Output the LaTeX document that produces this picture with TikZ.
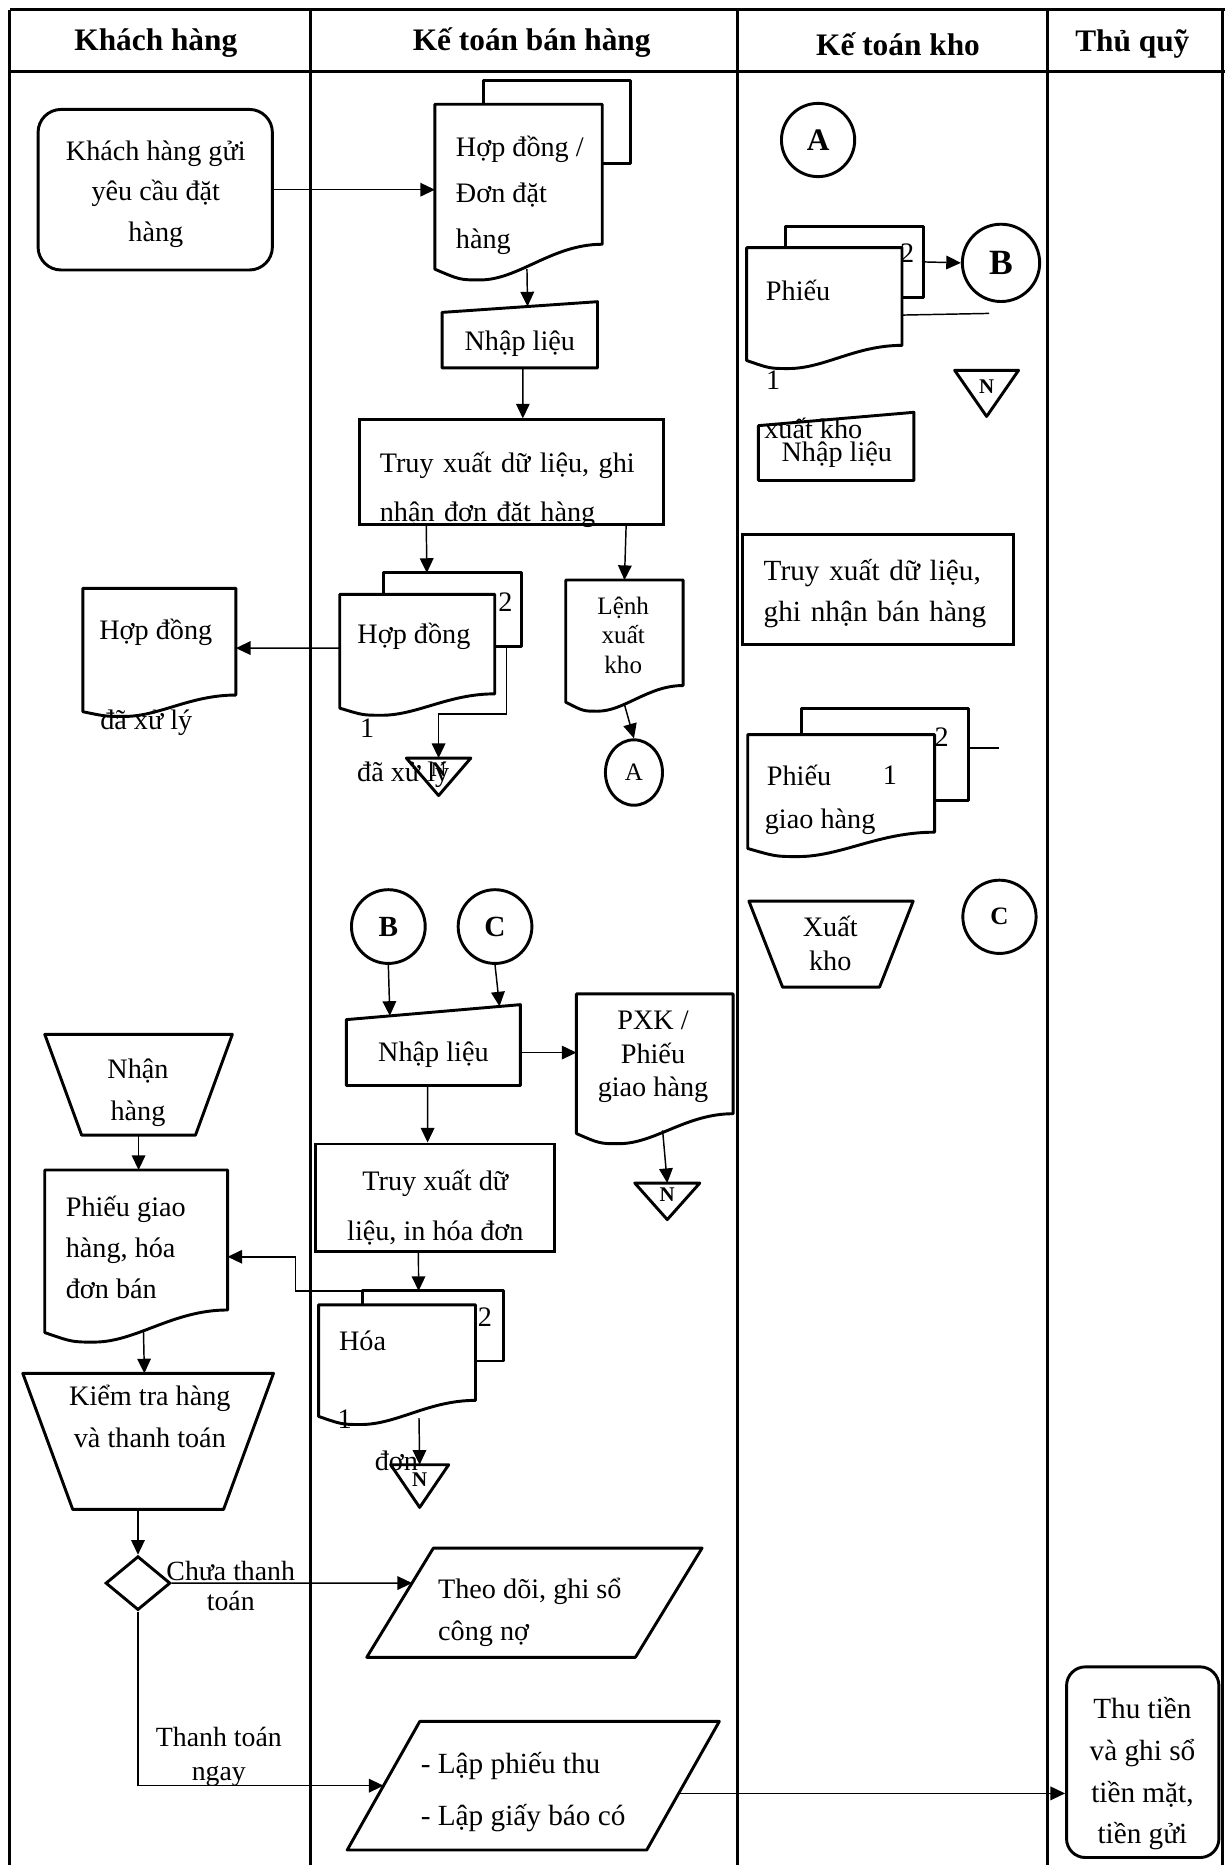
\documentclass[tikz,border=0pt]{standalone}
\usepackage{fontspec}
\setmainfont{Liberation Serif}
\usepackage{tikz}
\usetikzlibrary{arrows.meta, calc, fit, shapes.geometric}
\newcommand{\pxu}{0.02cm}
\newcommand{\docpath}[3]{\draw[outline] (#1.north west) -- (#1.north east) -- (#1.south east) .. controls ($(#1.south west)!0.7!(#1.south east)$) and ($(#1.south west)!0.5!(#1.south east)+(0,#3)$) .. ($(#1.south west)!0.27!(#1.south east)+(0,#3)$) .. controls ($(#1.south west)!0.15!(#1.south east)+(0,#3)$) .. ($(#1.south west)+(0,#2)$) -- cycle;}
\newcommand{\backpath}[2]{\draw[outline] (#1.west |- #2.north) -- (#1.north west) -- (#1.north east) -- (#1.south east) -- (#1.south -| #2.east);}
\newcommand{\trappath}[2]{\draw[outline] (#1.north west) -- (#1.north east) -- ($(#1.south east)+(-#2,0)$) -- ($(#1.south west)+(#2,0)$) -- cycle;}
\newcommand{\parapath}[2]{\coordinate (#1-tl) at ($(#1.north west)+(#2,0)$); \coordinate (#1-br) at ($(#1.south east)+(-#2,0)$); \draw[outline] (#1-tl) -- (#1.north east) -- (#1-br) -- (#1.south west) -- cycle;}
\newcommand{\entrypath}[2]{\draw[outline] (#1.south west) -- (#1.north west) -- ($(#1.north east)+(0,-#2)$) -- (#1.south east) -- cycle;}
\newcommand{\mergepath}[1]{\draw[outline] (#1.north west) -- (#1.north east) -- (#1.south) -- cycle;}
\tikzset{
	lane/.style = {line width=1.4pt},
	outline/.style = {line width=1.4pt, line join=round},
	frm/.style = {inner sep=0pt},
	shp/.style = {draw, line width=1.4pt, inner sep=0pt},
	conn/.style = {line width=0.7pt, arrows = {-Triangle[length=7pt, width=6.5pt]}},
	bare/.style = {line width=0.7pt},
	txt/.style = {inner sep=0pt, font=\fontsize{13.5}{19.5}\selectfont},
	hdr/.style = {inner sep=0pt, font=\bfseries\fontsize{15}{18}\selectfont},
	tag/.style = {inner sep=0pt, font=\bfseries\fontsize{10}{12}\selectfont},
}

\begin{document}
\begin{tikzpicture}[x=0.02cm, y=-0.02cm]
	\useasboundingbox (0,0) rectangle (1030,1568);
	\draw[lane] (8,8) -- (1030,8);
	\draw[lane] (8,60) -- (1030,60);
	\foreach \x in {8,261,620,881,1028} \draw[lane] (\x,8) -- (\x,1568);

	\node[hdr] (hkh) at (131,36) {Khách hàng};
	\node[hdr] (hbh) at (447,36) {Kế toán bán hàng};
	\node[hdr] (hkk) at (755,37) {Kế toán kho};
	\node[hdr] (htq) at (952,37) {Thủ quỹ};

	\node[shp, rounded corners=11pt, fit={(32,92) (229,227)}] (kh1) {};
	\node[txt, anchor=base, align=center, font=\fontsize{13.5}{19.4}\selectfont] (kh1t) at (131,203) {Khách hàng gửi\\yêu cầu đặt\\hàng};
	\node[frm, fit={(70,495) (198,584)}] (hd0) {};
	\docpath{hd0}{14}{18}
	\node[txt] (hd0t) at (131,532) {Hợp đồng};
	\node[txt] (hd0s) at (123,608) {đã xử lý};
	\node[frm, fit={(38,870) (195,954)}] (nh) {};
	\trappath{nh}{31}
	\node[txt, anchor=base, align=center, font=\fontsize{13.5}{19.7}\selectfont] (nht) at (116,941.7) {Nhận\\hàng};
	\node[frm, fit={(38,984) (191,1101)}] (pg) {};
	\docpath{pg}{19}{27}
	\node[txt, anchor=base west, align=left, font=\fontsize{13.5}{19.6}\selectfont] (pgt) at (55,1092) {Phiếu giao\\hàng, hóa\\đơn bán};
	\node[frm, fit={(19.5,1155) (229.6,1268.7)}] (kt) {};
	\trappath{kt}{42}
	\node[txt, anchor=base, align=center, font=\fontsize{13.5}{20.1}\selectfont] (ktt) at (126,1216.6) {Kiểm tra hàng\\và thanh toán};
	\node[shp, diamond, minimum width=54.5*\pxu, minimum height=45.3*\pxu] (dm) at (116,1331) {};
	\node[txt, anchor=base, align=center, font=\fontsize{13.3}{14.5}\selectfont] (lb1) at (194,1354) {Chưa thanh\\toán};
	\node[txt, anchor=base, align=center, font=\fontsize{13.3}{16}\selectfont] (lb2) at (184,1496.7) {Thanh toán\\ngay};

	\node[frm, fit={(366,88) (506,205)}] (hd1) {};
	\node[frm, fit={(407,68) (530,137)}] (hd1b) {};
	\backpath{hd1b}{hd1}
	\docpath{hd1}{21}{30}
	\node[txt, anchor=base west, align=left, font=\fontsize{13.5}{21.9}\selectfont] (hd1t) at (383,208.8) {Hợp đồng /\\Đơn đặt\\hàng};
	\node[frm, fit={(372,263) (502,309)}] (ni1) {};
	\entrypath{ni1}{9}
	\node[txt, anchor=base] (ni1t) at (437,295) {Nhập liệu};
	\node[shp, fit={(302,353) (558,441)}] (tx1) {};
	\node[txt, anchor=base west, align=left, text width=4.44cm, font=\fontsize{13.5}{23.6}\selectfont] (tx1t) at (319,397) {\makebox[4.44cm][s]{Truy xuất dữ liệu, ghi}\\nhận đơn đặt hàng};
	\node[frm, fit={(286,500) (415.6,583)}] (hd2) {};
	\node[frm, fit={(323,482) (438,543)}] (hd2b) {};
	\backpath{hd2b}{hd2}
	\docpath{hd2}{12}{18}
	\node[txt] (hd2t) at (348,535) {Hợp đồng};
	\node[txt] (hd2n2) at (425,506) {2};
	\node[txt] (hd2n1) at (308.6,612) {1};
	\node[txt] (hd2s) at (339,651.7) {đã xử lý};
	\node[frm, fit={(342,637.7) (395.5,668.5)}, tag] (n1) {N};
	\mergepath{n1}
	\node[frm, fit={(476,488) (574,576)}] (lk) {};
	\docpath{lk}{14}{21.6}
	\node[txt, anchor=base, align=center, font=\fontsize{12}{14}\selectfont] (lkt) at (524,566) {Lệnh\\xuất\\kho};
	\node[shp, ellipse, minimum width=48*\pxu, minimum height=55*\pxu, font=\fontsize{12}{14}\selectfont] (ca2) at (533,649.5) {A};
	\node[shp, circle, minimum size=62*\pxu, font=\bfseries\fontsize{14}{16}\selectfont] (cb2) at (326.5,779) {B};
	\node[shp, circle, minimum size=62*\pxu, font=\bfseries\fontsize{14}{16}\selectfont] (cc2) at (416.2,779) {C};
	\node[frm, fit={(291.5,857.6) (437.2,912.3)}] (ni2) {};
	\entrypath{ni2}{12.6}
	\node[txt, anchor=base] (ni2t) at (364.4,892.6) {Nhập liệu};
	\node[frm, fit={(485,836) (616,936)}] (pxk) {};
	\docpath{pxk}{16.7}{25.2}
	\node[txt, anchor=base, align=center, font=\fontsize{13.5}{16}\selectfont] (pxkt) at (549,922) {PXK /\\Phiếu\\giao hàng};
	\node[frm, fit={(534,995) (588,1025)}, tag] (n2) {N};
	\mergepath{n2}
	\node[shp, fit={(265.2,961.8) (466,1051.8)}] (tx2) {};
	\node[txt, anchor=base, align=center, font=\fontsize{13.5}{23.9}\selectfont] (tx2t) at (366,1043.2) {Truy xuất dữ\\liệu, in hóa đơn};
	\node[frm, fit={(268.2,1097.4) (399.4,1177)}] (hd3) {};
	\node[frm, fit={(305.4,1085.7) (422.8,1143.9)}] (hd3b) {};
	\backpath{hd3b}{hd3}
	\docpath{hd3}{13.5}{20.3}
	\node[txt] (hd3t) at (304.8,1127) {Hóa};
	\node[txt] (hd3n2) at (407.8,1107.8) {2};
	\node[txt] (hd3n1) at (289.8,1193.4) {1};
	\node[txt] (hd3s) at (333.3,1228) {đơn};
	\node[frm, fit={(328.8,1231.8) (376.9,1267)}, tag] (n3) {N};
	\mergepath{n3}
	\node[frm, fit={(308.7,1301.9) (589.9,1393)}] (td) {};
	\parapath{td}{56}
	\node[txt, anchor=base west, align=left, font=\fontsize{13.5}{19.9}\selectfont] (tdt) at (368,1379) {Theo dõi, ghi sổ\\công nợ};
	\node[frm, fit={(292.3,1447.6) (604.4,1555)}] (lp) {};
	\parapath{lp}{61}
	\node[txt, anchor=base west, align=left, font=\fontsize{14}{24.8}\selectfont] (lpt) at (353.4,1534.5) {- Lập phiếu thu\\- Lập giấy báo có};

	\node[shp, circle, minimum size=61.6*\pxu, font=\bfseries\fontsize{15}{17}\selectfont] (ca3) at (687.8,117.7) {A};
	\node[frm, fit={(628,208.6) (758,290)}] (hx) {};
	\node[frm, fit={(660.6,190.6) (776,249.8)}] (hxb) {};
	\backpath{hxb}{hx}
	\docpath{hx}{12.7}{19.5}
	\node[txt] (hxn2) at (762.6,213) {2};
	\node[txt] (hxt) at (671,244) {Phiếu};
	\node[txt] (hxn1) at (650,319.5) {1};
	\node[txt] (hxs) at (683.8,360) {xuất kho};
	\node[shp, circle, minimum size=65*\pxu, font=\bfseries\fontsize{17}{19}\selectfont] (cb3) at (841.6,221) {B};
	\coordinate (sx1) at (831.6,263.5);
	\node[frm, fit={(803,311.7) (856,349.8)}, tag] (n4) {N};
	\mergepath{n4}
	\node[frm, fit={(638,358.2) (768,403.6)}] (ni3) {};
	\entrypath{ni3}{11.2}
	\node[txt, anchor=base] (ni3t) at (703.5,388) {Nhập liệu};
	\node[shp, fit={(624.5,449) (852,541.7)}] (tx3) {};
	\node[txt, anchor=base west, align=left, text width=3.84cm, font=\fontsize{14}{19.9}\selectfont] (tx3t) at (641.7,487.7) {\makebox[3.84cm][s]{Truy xuất dữ liệu,}\\ghi nhận bán hàng};
	\node[frm, fit={(629,618) (785.4,699.3)}] (hg) {};
	\node[frm, fit={(674,596) (814,672.7)}] (hgb) {};
	\backpath{hgb}{hg}
	\docpath{hg}{13.7}{20.5}
	\node[txt] (hgn2) at (791.8,619.4) {2};
	\node[txt] (hgt) at (671.8,651.7) {Phiếu};
	\node[txt] (hgn1) at (748.3,651.7) {1};
	\node[txt] (hgs) at (689.5,690.9) {giao hàng};
	\coordinate (sx2) at (840.3,628.7);
	\node[frm, fit={(630,758) (767.4,829.6)}] (xk) {};
	\trappath{xk}{28.3}
	\node[txt, anchor=base, align=center, font=\fontsize{13.5}{16}\selectfont] (xkt) at (698,815.6) {Xuất\\kho};
	\node[shp, circle, minimum size=61.6*\pxu, font=\bfseries\fontsize{12}{14}\selectfont] (cc3) at (840.3,770.8) {C};

	\node[shp, rounded corners=9pt, fit={(896.7,1401.4) (1024.8,1561.7)}] (tq) {};
	\node[txt, anchor=base, align=center, font=\fontsize{14}{19.9}\selectfont] (tqt) at (960.5,1550) {Thu tiền\\và ghi sổ\\tiền mặt,\\tiền gửi};

	\draw[conn] (kh1.east) -- (kh1.east -| hd1.west);
	\draw[conn] ($(hd1.south west)!0.55!(hd1.south east)+(0,21)$) -- ($(ni1.north west)!0.55!(ni1.north east)+(0,-5)$);
	\draw[conn] ($(ni1.south west)!0.52!(ni1.south east)$) -- ($(tx1.north west)!0.537!(tx1.north east)$);
	\draw[conn] ($(tx1.south west)!0.223!(tx1.south east)$) -- ($(hd2b.north west)!0.313!(hd2b.north east)$);
	\draw[conn] ($(tx1.south west)!0.873!(tx1.south east)$) -- (lk.north);
	\draw[conn] ($(hd2.north west)!0.54!(hd2.south west)$) -- ($(hd0.north east)!0.56!(hd0.south east)$);
	\draw[conn] ($(hd2b.south west)!0.89!(hd2b.south east)$) -- ++(0,57) -| (n1.north);
	\draw[conn] ($(lk.south west)!0.5!(lk.south east)+(0,16)$) -- (ca2.north);
	\draw[conn] (hxb.east) -- (cb3.west);
	\draw[bare] ($(hx.north east)!0.69!(hx.south east)$) -- (sx1);
	\draw[bare] (hgb.east |- sx2) -- (sx2);
	\draw[conn] (cb2.south) -- ($(ni2.north west)!0.25!(ni2.north east)+(0,-3.2)$);
	\draw[conn] (cc2.south) -- ($(ni2.north west)!0.88!(ni2.north east)+(0,-11.1)$);
	\draw[conn] (ni2.east) -- (ni2.east -| pxk.west);
	\draw[conn] ($(pxk.south west)!0.55!(pxk.south east)+(0,14)$) -- (n2.north);
	\draw[conn] ($(ni2.south west)!0.467!(ni2.south east)$) -- ($(tx2.north west)!0.47!(tx2.north east)$);
	\draw[conn] ($(tx2.south west)!0.432!(tx2.south east)$) -- ($(hd3b.north west)!0.397!(hd3b.north east)$);
	\draw[conn] (hd3b.north west) -- ++(-56.8,0) |- ($(pg.north east)!0.62!(pg.south east)$);
	\draw[conn] ($(hd3.south west)!0.64!(hd3.south east)+(0,15)$) -- (n3.north);
	\draw[conn] (nh.south) -- (nh.south |- pg.north);
	\draw[conn] ($(pg.south west)!0.54!(pg.south east)+(0,18.6)$) -- ($(kt.north west)!0.485!(kt.north east)$);
	\draw[conn] (kt.south -| dm.north) -- (dm.north);
	\draw[conn] (dm.east) -- ($(td-tl)!0.32!(td.south west)$);
	\draw[conn] (dm.south) |- ($(lp-tl)!0.5!(lp.south west)$);
	\coordinate (lpr) at ($(lp.north east)!0.56!(lp-br)$);
	\draw[conn] (lpr) -- (lpr -| tq.west);
\end{tikzpicture}
\end{document}
